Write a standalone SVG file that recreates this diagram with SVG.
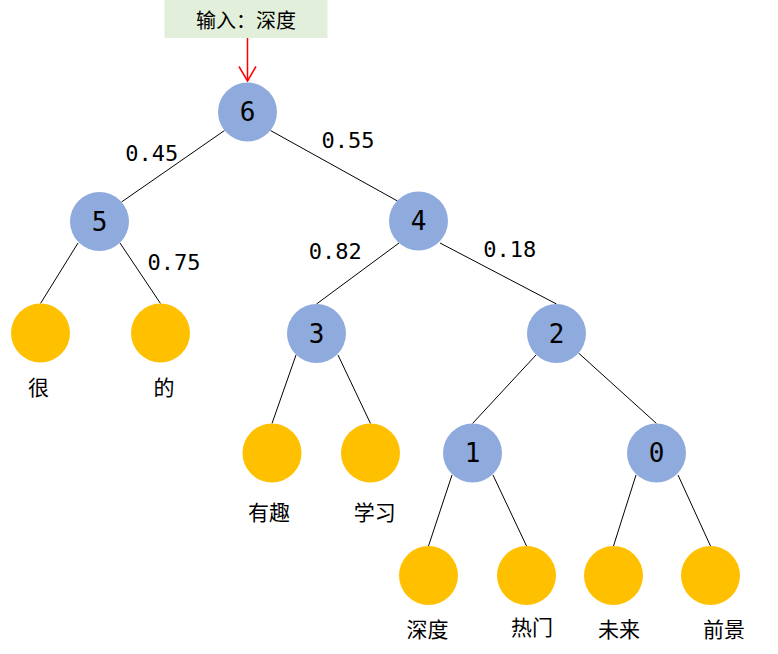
<svg xmlns="http://www.w3.org/2000/svg" width="778" height="654" viewBox="0 0 778 654">
<style>
.node{fill:#8faadc}
.leaf{fill:#ffc000}
.num{font-family:"DejaVu Sans Mono","Liberation Mono",monospace;font-size:26px;fill:#000;text-anchor:middle}
.w{font-family:"DejaVu Sans Mono","Liberation Mono",monospace;font-size:22px;fill:#000;text-anchor:middle}
.cj{font-family:"Liberation Sans","Noto Sans CJK SC",sans-serif;font-size:21px;fill:#000;text-anchor:middle}
.edge{stroke:#000;stroke-width:1;fill:none}
</style>
<defs>
<marker id="arr" markerWidth="12" markerHeight="12" refX="8" refY="5" orient="auto" markerUnits="userSpaceOnUse">
<path d="M0,-3 L8,5 L0,13" transform="translate(0,0)" fill="none" stroke="#ff0000" stroke-width="1.5"/>
</marker>
</defs>
<rect width="778" height="654" fill="#fff"/>
<g id="input">
<rect x="164.5" y="0" width="163" height="38" fill="#e2efda"/>
<text x="246" y="28" class="cj" style="font-size:20px">输入：深度</text>
</g>
<g id="connectors">
<line x1="247.5" y1="38" x2="247.5" y2="81" stroke="#ff0000" stroke-width="1.5"/>
<polyline points="239,66.5 247.5,81 256,66.5" fill="none" stroke="#ff0000" stroke-width="1.5"/>
<line class="edge" x1="224.5" y1="130.5" x2="121.5" y2="202"/>
<line class="edge" x1="270.5" y1="130.5" x2="397.5" y2="201"/>
<line class="edge" x1="399" y1="243" x2="316.5" y2="304"/>
<line class="edge" x1="440" y1="243" x2="556.5" y2="304"/>
<line class="edge" x1="78" y1="243" x2="40.5" y2="303.5"/>
<line class="edge" x1="120" y1="243" x2="160.5" y2="303.5"/>
<line class="edge" x1="296" y1="355" x2="272" y2="423.5"/>
<line class="edge" x1="338" y1="355" x2="370.5" y2="423.5"/>
<line class="edge" x1="536" y1="355" x2="472.5" y2="423.5"/>
<line class="edge" x1="578.5" y1="353" x2="656.5" y2="423.5"/>
<line class="edge" x1="452" y1="475" x2="428.5" y2="546"/>
<line class="edge" x1="493" y1="475" x2="526.5" y2="546"/>
<line class="edge" x1="636" y1="475" x2="613.5" y2="546"/>
<line class="edge" x1="678" y1="475" x2="710.5" y2="546"/>
<text class="w" x="151.7" y="161">0.45</text>
<text class="w" x="348" y="148.3">0.55</text>
<text class="w" x="174" y="270">0.75</text>
<text class="w" x="335.3" y="259.3">0.82</text>
<text class="w" x="509.7" y="256.7">0.18</text>
</g>
<g id="n6"><circle class="node" cx="247.5" cy="112" r="29.5"/><text class="num" x="247.5" y="121">6</text></g>
<g id="n5"><circle class="node" cx="99.5" cy="221.5" r="29.5"/><text class="num" x="99.5" y="230.5">5</text></g>
<g id="n4"><circle class="node" cx="418.5" cy="221" r="29.5"/><text class="num" x="418.5" y="230">4</text></g>
<g id="n3"><circle class="node" cx="316.5" cy="333.5" r="29.5"/><text class="num" x="316.5" y="342.5">3</text></g>
<g id="n2"><circle class="node" cx="556.5" cy="333.5" r="29.5"/><text class="num" x="556.5" y="342.5">2</text></g>
<g id="n1"><circle class="node" cx="472.5" cy="453" r="29.5"/><text class="num" x="472.5" y="462">1</text></g>
<g id="n0"><circle class="node" cx="656.5" cy="453" r="29.5"/><text class="num" x="656.5" y="462">0</text></g>
<g id="leaf-hen"><circle class="leaf" cx="40.5" cy="333" r="29.5"/><text class="cj" x="38.5" y="395">很</text></g>
<g id="leaf-de"><circle class="leaf" cx="160.5" cy="333" r="29.5"/><text class="cj" x="164" y="395">的</text></g>
<g id="leaf-youqu"><circle class="leaf" cx="272" cy="453" r="29.5"/><text class="cj" x="269" y="519.5">有趣</text></g>
<g id="leaf-xuexi"><circle class="leaf" cx="370.5" cy="453" r="29.5"/><text class="cj" x="374.7" y="519.5">学习</text></g>
<g id="leaf-shendu"><circle class="leaf" cx="428.5" cy="575.5" r="29.5"/><text class="cj" x="427.5" y="636.5">深度</text></g>
<g id="leaf-remen"><circle class="leaf" cx="526.5" cy="575.5" r="29.5"/><text class="cj" x="532" y="634.5">热门</text></g>
<g id="leaf-weilai"><circle class="leaf" cx="613.5" cy="575.5" r="29.5"/><text class="cj" x="619" y="637">未来</text></g>
<g id="leaf-qianjing"><circle class="leaf" cx="710.5" cy="575.5" r="29.5"/><text class="cj" x="724" y="636.5">前景</text></g>
</svg>
